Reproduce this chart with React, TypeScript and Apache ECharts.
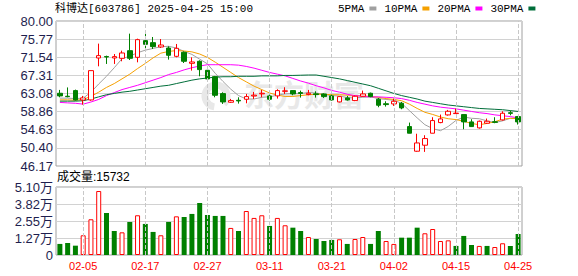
import React, { useEffect, useRef } from "react";
import * as echarts from "echarts";

const dates = ["01-23","01-24","01-27","02-05","02-06","02-07","02-10","02-11","02-12","02-13","02-14","02-17","02-18","02-19","02-20","02-21","02-24","02-25","02-26","02-27","02-28","03-03","03-04","03-05","03-06","03-07","03-10","03-11","03-12","03-13","03-14","03-17","03-18","03-19","03-20","03-21","03-24","03-25","03-26","03-27","03-28","03-31","04-01","04-02","04-03","04-07","04-08","04-09","04-10","04-11","04-14","04-15","04-16","04-17","04-18","04-21","04-22","04-23","04-24","04-25"];

const labelDates = ["02-05","02-17","02-27","03-11","03-21","04-02","04-15","04-25"];

// [open, close, low, high]
const candles = [
  [63.14, 62.52, 62.2, 63.92],
  [62.45, 62.35, 62.2, 64.5],
  [63.76, 61.58, 61.43, 63.99],
  [61.58, 62.05, 60.5, 62.52],
  [61.58, 68.42, 61.4, 68.42],
  [71.37, 71.92, 69.43, 74.72],
  [71.7, 71.6, 69.98, 71.92],
  [71.37, 71.69, 69.98, 72.3],
  [71.3, 72.54, 70.6, 73.08],
  [73.08, 71.3, 70.9, 77.05],
  [71.53, 75.65, 70.36, 75.88],
  [75.42, 74.56, 73.7, 77.2],
  [74.95, 74.02, 73.47, 76.27],
  [73.94, 74.4, 73.7, 75.8],
  [73.7, 72.0, 70.99, 74.1],
  [71.76, 73.63, 71.53, 74.64],
  [72.7, 70.6, 70.2, 72.9],
  [70.13, 70.44, 68.42, 71.53],
  [70.6, 68.66, 67.1, 70.83],
  [68.5, 66.48, 65.78, 69.04],
  [67.02, 62.67, 62.2, 67.18],
  [63.06, 61.12, 60.65, 63.37],
  [61.04, 61.43, 60.89, 61.82],
  [61.5, 61.35, 60.73, 62.2],
  [61.74, 62.36, 60.8, 62.98],
  [62.5, 62.7, 61.82, 63.45],
  [63.0, 63.15, 62.2, 63.92],
  [62.52, 61.74, 61.43, 62.83],
  [62.52, 63.76, 61.9, 64.07],
  [63.6, 63.7, 62.98, 64.54],
  [63.76, 62.98, 62.67, 63.8],
  [63.3, 63.1, 62.13, 63.76],
  [62.83, 63.14, 62.67, 63.92],
  [63.0, 62.83, 62.13, 63.6],
  [62.98, 62.36, 62.05, 63.14],
  [62.52, 61.58, 61.43, 62.83],
  [61.12, 62.36, 61.0, 62.4],
  [62.05, 61.58, 61.43, 62.52],
  [61.43, 62.44, 61.3, 62.6],
  [62.44, 62.98, 62.36, 63.76],
  [63.14, 62.36, 62.2, 63.3],
  [61.74, 60.34, 59.88, 62.05],
  [60.7, 60.5, 60.03, 61.27],
  [60.65, 61.27, 60.19, 61.9],
  [60.81, 59.72, 59.41, 61.12],
  [55.37, 53.82, 53.8, 56.3],
  [49.62, 51.55, 49.5, 53.7],
  [51.02, 52.57, 49.46, 53.35],
  [53.82, 56.77, 53.8, 57.55],
  [56.3, 57.16, 56.15, 58.17],
  [58.09, 58.94, 57.93, 59.25],
  [58.4, 58.5, 58.35, 59.56],
  [58.17, 56.46, 54.75, 58.2],
  [56.46, 55.37, 55.3, 57.08],
  [55.06, 56.61, 54.9, 56.77],
  [56.15, 56.61, 55.99, 57.24],
  [56.5, 56.35, 56.15, 57.55],
  [56.92, 58.48, 56.77, 58.94],
  [58.6, 58.45, 58.0, 59.1],
  [57.7, 56.46, 55.84, 57.85],
];

const ma5 = [62.0, 62.0, 61.9, 62.0, 63.4, 65.3, 67.1, 69.1, 71.2, 71.8, 72.6, 73.2, 73.6, 74.0, 74.1, 73.7, 72.9, 72.2, 71.1, 70.0, 67.8, 65.9, 64.1, 62.6, 61.8, 61.8, 62.2, 62.3, 62.7, 63.0, 63.1, 63.1, 63.3, 63.2, 62.9, 62.6, 62.5, 62.1, 62.1, 62.2, 62.3, 61.9, 61.7, 61.5, 60.8, 59.1, 57.4, 55.8, 54.9, 54.4, 55.4, 56.8, 57.6, 57.3, 57.2, 56.7, 56.3, 56.7, 57.3, 57.3];
const ma10 = [61.6, 61.6, 61.5, 61.7, 62.4, 63.4, 64.5, 65.4, 66.5, 67.6, 68.9, 70.1, 71.4, 72.5, 72.9, 73.1, 73.0, 72.8, 72.3, 71.5, 70.4, 69.2, 68.0, 66.8, 65.8, 64.8, 64.0, 63.2, 62.7, 62.4, 62.4, 62.6, 62.8, 62.9, 62.9, 62.8, 62.8, 62.7, 62.6, 62.5, 62.4, 62.2, 61.9, 61.7, 61.4, 60.6, 59.6, 58.7, 58.2, 57.6, 57.2, 57.0, 56.6, 56.1, 55.8, 56.1, 56.5, 57.1, 57.3, 57.2];
const ma20 = [61.0, 60.9, 60.8, 60.6, 61.1, 61.7, 62.6, 63.3, 64.0, 64.5, 65.0, 65.6, 66.2, 66.8, 67.5, 68.0, 68.6, 69.1, 69.5, 69.8, 69.8, 69.8, 69.8, 69.7, 69.4, 69.0, 68.5, 68.0, 67.6, 67.2, 66.6, 66.0, 65.5, 64.9, 64.4, 63.8, 63.4, 62.9, 62.6, 62.4, 62.3, 62.3, 62.2, 62.1, 61.9, 61.5, 61.0, 60.6, 60.2, 59.9, 59.7, 59.5, 59.2, 58.9, 58.6, 58.4, 58.1, 57.9, 57.7, 57.4];
const ma30 = [61.3, 61.3, 61.3, 61.4, 61.8, 62.3, 62.8, 63.1, 63.4, 63.6, 63.9, 64.2, 64.5, 64.8, 65.0, 65.4, 65.8, 66.2, 66.5, 66.7, 66.9, 67.0, 67.0, 67.1, 67.1, 67.1, 67.2, 67.2, 67.2, 67.3, 67.3, 67.35, 67.4, 67.4, 67.1, 66.8, 66.5, 66.1, 65.7, 65.3, 64.9, 64.3, 63.7, 63.1, 62.6, 62.2, 61.8, 61.3, 61.0, 60.7, 60.4, 60.2, 60.0, 59.8, 59.6, 59.5, 59.4, 59.3, 59.1, 58.9];

const volumes = [8300, 9000, 7000, 14800, 26800, 48000, 31500, 18000, 17000, 24800, 29800, 23300, 17300, 14800, 24800, 29000, 28500, 30800, 39000, 30000, 29300, 29300, 20300, 18000, 33000, 27800, 29800, 21800, 27800, 22300, 20500, 18000, 13500, 12000, 10500, 11300, 11800, 8300, 12000, 13500, 8300, 18000, 10500, 8300, 13000, 13000, 20500, 16300, 19500, 10500, 11000, 6800, 14300, 7500, 6800, 6800, 6000, 8800, 6800, 15732];
const volUp = [0,0,0,1,1,1,0,0,1,0, 1,0,0,1,0,1,0,0,0,0, 0,0,1,0,1,1,1,0,1,1, 0,0,1,0,0,0,1,0,1,1, 0,0,1,1,0,0,0,1,1,1, 1,0,0,0,1,0,1,1,0,0];

const priceTicks = [46.17, 50.40, 54.63, 58.86, 63.08, 67.31, 71.54, 75.77, 80.00];
const volTicks = [0, 12750, 25500, 38250, 51000];
const volTickLabels = ["0", "1.27万", "2.55万", "3.82万", "5.10万"];

const maNames = ["5PMA", "10PMA", "20PMA", "30PMA"];
const maColors = ["#a0a0a0", "#f5a000", "#ff00ff", "#006e3a"];

const RED = "#ff0000";
const GREEN = "#008000";
const AXIS_TXT = "#1e1e4e";
const MONO = '"Liberation Mono", "Noto Sans CJK SC", monospace';
const SANS = '"Liberation Sans", "Noto Sans CJK SC", sans-serif';

export default function App() {
  const ref = useRef<HTMLDivElement>(null);
  useEffect(() => {
    document.body.style.margin = "0";
    if (!ref.current) return;
    const chart = echarts.init(ref.current, null, { renderer: "svg" });
    const vLines = {
      silent: true,
      symbol: ["none", "none"],
      label: { show: false },
      lineStyle: { type: "dashed", color: "#c8c8c8", width: 1 },
      data: labelDates.map((d) => ({ xAxis: d })),
    };
    const maSeries = [ma5, ma10, ma20, ma30].map((arr, k) => ({
      name: maNames[k],
      type: "line",
      xAxisIndex: 0,
      yAxisIndex: 0,
      data: arr,
      showSymbol: false,
      symbol: "none",
      smooth: false,
      lineStyle: { width: 1, color: maColors[k] },
      itemStyle: { color: maColors[k] },
      z: 3,
    }));
    const option = {
      animation: false,
      backgroundColor: "#ffffff",
      textStyle: { fontFamily: SANS },
      title: {
        text: "科博达[603786] 2025-04-25 15:00",
        left: 55,
        top: 3,
        padding: 0,
        textStyle: { fontSize: 11, fontWeight: "normal", color: "#000", fontFamily: MONO },
      },
      legend: {
        data: maNames,
        left: 338,
        top: 3,
        padding: 0,
        align: "right",
        icon: "rect",
        itemWidth: 7,
        itemHeight: 4,
        itemGap: 8,
        textStyle: { fontSize: 11, color: "#000", fontFamily: MONO },
      },
      graphic: [
        {
          type: "arc",
          z: 1,
          silent: true,
          shape: { cx: 216, cy: 96, r: 11, startAngle: 0.55 * Math.PI, endAngle: 2.25 * Math.PI },
          style: { stroke: "#e8e8e8", lineWidth: 7, fill: "none" },
        },
        {
          type: "text",
          z: 1,
          silent: true,
          left: 244,
          top: 78,
          style: { text: "东方财富", fontSize: 30, fontWeight: "bold", fill: "#e8e8e8", fontFamily: '"Noto Sans CJK SC"' },
        },
        {
          type: "text",
          left: 57,
          top: 171,
          style: { text: "成交量:15732", fontSize: 12, fill: "#000", fontFamily: SANS },
        },
      ],
      grid: [
        { left: 56, top: 21, width: 466, height: 145, show: true, borderColor: "#a0a0a0", borderWidth: 1, backgroundColor: "transparent" },
        { left: 56, top: 187, width: 466, height: 68, show: true, borderColor: "#a0a0a0", borderWidth: 1, backgroundColor: "transparent" },
      ],
      xAxis: [
        {
          type: "category",
          gridIndex: 0,
          data: dates,
          boundaryGap: true,
          axisLine: { show: false },
          axisTick: { show: false },
          axisLabel: { show: false },
          splitLine: { show: false },
        },
        {
          type: "category",
          gridIndex: 1,
          data: dates,
          boundaryGap: true,
          axisLine: { show: false },
          axisTick: { show: false },
          axisLabel: {
            show: true,
            interval: (_i: number, v: string) => labelDates.indexOf(v) >= 0,
            color: RED,
            fontSize: 11,
            margin: 5,
            fontFamily: SANS,
            hideOverlap: false,
          },
          splitLine: { show: false },
        },
      ],
      yAxis: [
        {
          type: "value",
          gridIndex: 0,
          min: 46.17,
          max: 80,
          axisLine: { show: false },
          axisTick: { show: false, customValues: priceTicks },
          axisLabel: {
            customValues: priceTicks,
            formatter: (v: number) => v.toFixed(2),
            color: AXIS_TXT,
            fontSize: 13,
            margin: 3,
            fontFamily: SANS,
          },
          splitLine: { show: true, lineStyle: { color: "#d2d2d2", width: 1 } },
        },
        {
          type: "value",
          gridIndex: 1,
          min: 0,
          max: 51000,
          interval: 12750,
          axisLine: { show: false },
          axisTick: { show: false },
          axisLabel: {
            formatter: (v: number) => {
              const idx = volTicks.indexOf(Math.round(v));
              return idx >= 0 ? volTickLabels[idx] : "";
            },
            color: AXIS_TXT,
            fontSize: 13,
            margin: 3,
            fontFamily: SANS,
          },
          splitLine: { show: true, lineStyle: { color: "#d2d2d2", width: 1 } },
        },
      ],
      series: [
        {
          name: "K",
          type: "candlestick",
          xAxisIndex: 0,
          yAxisIndex: 0,
          data: candles,
          barWidth: 5,
          itemStyle: {
            color: "#ffffff",
            color0: GREEN,
            borderColor: RED,
            borderColor0: GREEN,
            borderWidth: 1,
          },
          markLine: vLines,
          z: 4,
        },
        ...maSeries,
        {
          name: "VOL",
          type: "bar",
          xAxisIndex: 1,
          yAxisIndex: 1,
          barWidth: 5,
          data: volumes.map((v, i) => ({
            value: v,
            itemStyle: volUp[i]
              ? { color: "#ffffff", borderColor: RED, borderWidth: 1 }
              : { color: GREEN, borderColor: GREEN, borderWidth: 0 },
          })),
          markLine: vLines,
        },
      ],
    };
    chart.setOption(option as any);
    return () => chart.dispose();
  }, []);
  return <div ref={ref} style={{ width: 578, height: 276 }} />;
}
